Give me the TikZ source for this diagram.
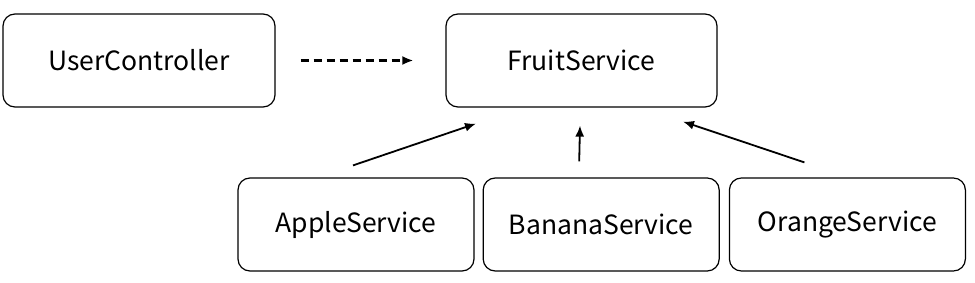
\documentclass[tikz,border=0pt]{standalone}
\usepackage{fontspec}
\newfontfamily\krfont{Noto Sans CJK KR}
\usetikzlibrary{positioning,arrows.meta,calc}

\begin{document}
\begin{tikzpicture}[x=1pt, y=1pt, >={Latex[length=11pt,width=9pt]},
  font=\krfont\fontsize{26.5}{30}\selectfont,
  node distance=8pt,
  svc/.style={draw, line width=1.2pt, rounded corners=12pt,
    minimum width=236pt, minimum height=93pt, inner sep=0pt},
  wide/.style={svc, minimum width=272pt},
  link/.style={->, line width=1.8pt}]
  \useasboundingbox (0,0) rectangle (975,282);
  \node[wide] (user)  at (139,221.5)   {UserController};
  \node[wide, minimum width=271pt] (fruit) at (581.5,221.5) {FruitService};
  \node[svc] (apple) at (356,57.5) {AppleService};
  \node[svc, right=8pt of apple] (banana) {BananaService};
  \node[svc, right=9pt of banana] (orange) {OrangeService};
  % arrow ends sit off the boxes
  \coordinate (userout)  at ($(user.east)+(25,0)$);
  \coordinate (fruitin)  at ($(fruit.west)+(-32,0)$);
  \coordinate (appleout) at ($(apple.north)+(-3,12)$);
  \coordinate (bananaout) at ($(banana.north)+(-22,16)$);
  \coordinate (orangeout) at ($(orange.north)+(-43,15)$);
  \coordinate (fruitl) at ($(fruit.south)+(-105.5,-16)$);
  \coordinate (fruitm) at ($(fruit.south)+(-1.5,-18)$);
  \coordinate (fruitr) at ($(fruit.south)+(101.5,-14)$);
  \draw[link, line width=2.4pt, dash pattern=on 8pt off 5pt] (userout) -- (fruitin);
  \draw[link] (appleout) -- (fruitl);
  \draw[link] (bananaout) -- (fruitm);
  \draw[link] (orangeout) -- (fruitr);
\end{tikzpicture}
\end{document}
